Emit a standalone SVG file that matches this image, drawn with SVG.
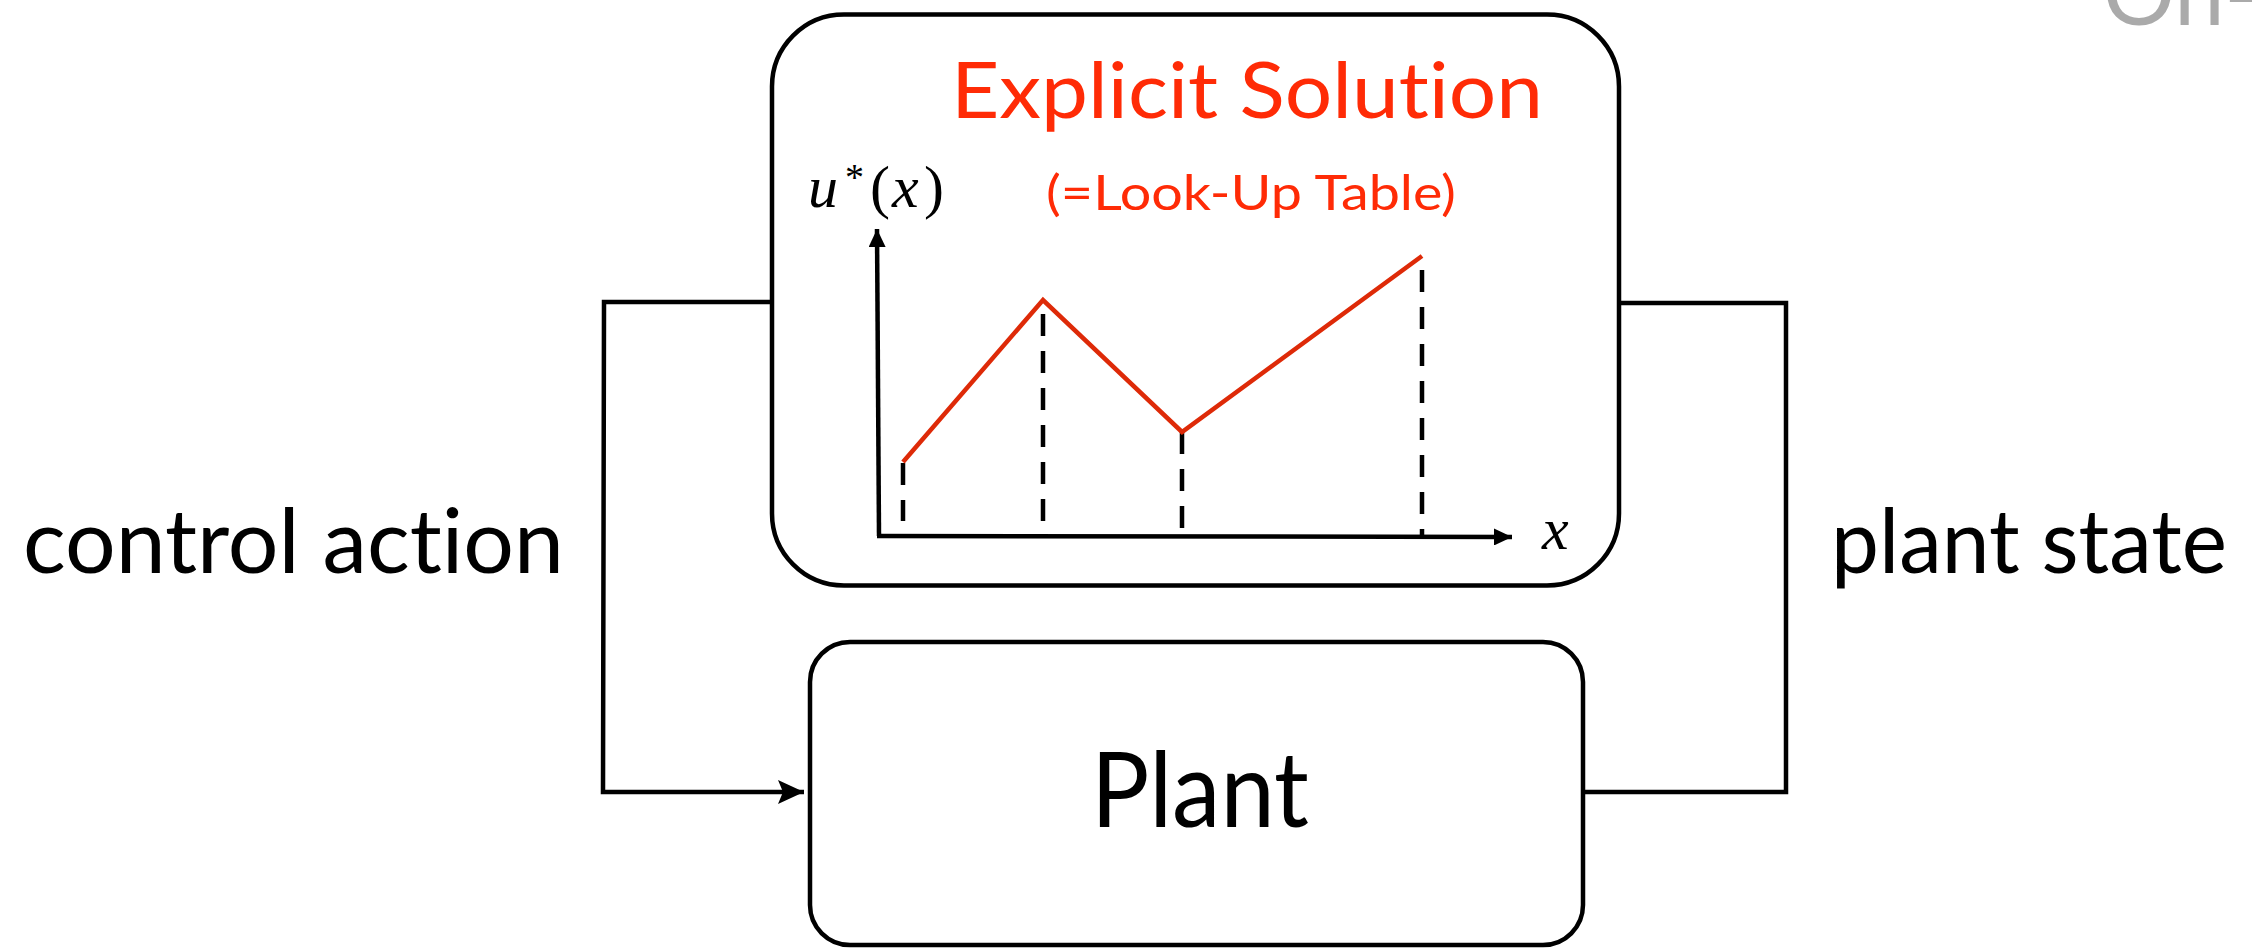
<svg xmlns="http://www.w3.org/2000/svg" width="2252" height="949" viewBox="0 0 2252 949">
  <style>
    text { font-variant-ligatures: none; font-feature-settings: "liga" 0, "clig" 0; }
    .box { fill: #ffffff; stroke: #000000; stroke-width: 4.5; }
    .wire { fill: none; stroke: #000000; stroke-width: 4.5; stroke-linejoin: miter; }
    .axis { fill: none; stroke: #000000; stroke-width: 4.5; }
    .guide { fill: none; stroke: #000000; stroke-width: 4.5; stroke-dasharray: 22 15; }
    .curve { fill: none; stroke: #de2a08; stroke-width: 4.5; stroke-linejoin: miter; }
    .label { font-family: Lato, "Liberation Sans", sans-serif; fill: #000000; }
    .red { font-family: Lato, "Liberation Sans", sans-serif; fill: #ff2b06; }
    .math { font-family: "Liberation Serif", "DejaVu Serif", serif; fill: #000000; }
  </style>
  <defs>
    <marker id="wireHead" markerUnits="userSpaceOnUse" viewBox="0 0 26 24" markerWidth="26" markerHeight="24" refX="26" refY="12" orient="auto">
      <path d="M0,0 L26,12 L0,24 L5,12 z" fill="#000000"/>
    </marker>
    <marker id="axisHead" markerUnits="userSpaceOnUse" viewBox="0 0 18 17" markerWidth="18" markerHeight="17" refX="18" refY="8.5" orient="auto">
      <path d="M0,0 L18,8.5 L0,17 z" fill="#000000"/>
    </marker>
  </defs>

  <!-- grey heading fragment at the top right -->
  <text x="2103" y="25" font-family="Lato, 'Liberation Sans', sans-serif" font-size="90" fill="#aaaaaa">On-</text>

  <!-- feedback wiring -->
  <g id="connectors">
    <polyline class="wire" points="772,302 604,302 603,792 804,792" marker-end="url(#wireHead)"/>
    <polyline class="wire" points="1618,303 1786,303 1786,792 1583,792"/>
  </g>

  <!-- controller block with look-up table plot -->
  <g id="explicit-solution">
    <rect class="box" x="772" y="14.5" width="847" height="571" rx="72" ry="72"/>
    <text class="red" x="951" y="118" font-size="78" textLength="592" lengthAdjust="spacingAndGlyphs">Explicit Solution</text>
    <text class="red" x="1046" y="210" font-size="49" textLength="410" lengthAdjust="spacingAndGlyphs">(=Look-Up Table)</text>

    <!-- axis label u*(x) -->
    <text class="math" x="808" y="207" font-size="60" font-style="italic">u</text>
    <text class="math" x="845" y="190" font-size="38">*</text>
    <text class="math" x="870" y="207" font-size="60">(</text>
    <text class="math" x="892" y="207" font-size="60" font-style="italic">x</text>
    <text class="math" x="924" y="207" font-size="60">)</text>
    <text class="math" x="1542" y="549" font-size="60" font-style="italic">x</text>

    <!-- axes -->
    <line class="axis" x1="879" y1="536" x2="877" y2="229" marker-end="url(#axisHead)"/>
    <line class="axis" x1="877" y1="536" x2="1512" y2="537" marker-end="url(#axisHead)"/>

    <!-- region boundaries -->
    <line class="guide" x1="903" y1="463" x2="903" y2="521"/>
    <line class="guide" x1="1043" y1="314" x2="1043" y2="524"/>
    <line class="guide" x1="1182" y1="432" x2="1182" y2="529"/>
    <line class="guide" x1="1422" y1="270" x2="1422" y2="535"/>

    <!-- piecewise-affine control law -->
    <polyline class="curve" points="903,462 1043,300 1182,432 1422,256"/>
  </g>

  <!-- plant block -->
  <g id="plant">
    <rect class="box" x="810" y="642" width="773" height="303" rx="40" ry="40"/>
    <text class="label" x="1091" y="827" font-size="104" textLength="218" lengthAdjust="spacingAndGlyphs">Plant</text>
  </g>

  <!-- signal labels -->
  <g id="label-control-action">
    <text class="label" x="23" y="573" font-size="90" textLength="541" lengthAdjust="spacingAndGlyphs">control action</text>
  </g>
  <g id="label-plant-state">
    <text class="label" x="1831" y="573" font-size="90" textLength="396" lengthAdjust="spacingAndGlyphs">plant state</text>
  </g>
</svg>
